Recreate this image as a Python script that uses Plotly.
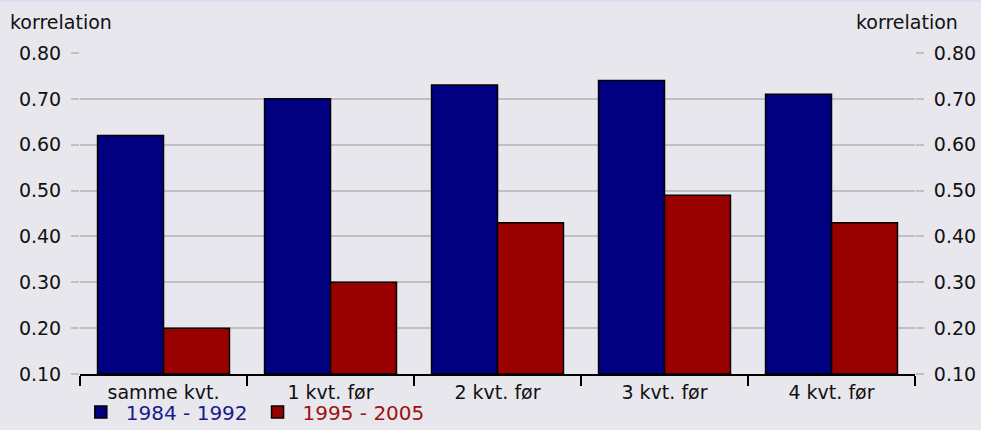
import plotly.graph_objects as go

# Data
categories = ['samme kvt.', '1 kvt. før', '2 kvt. før', '3 kvt. før', '4 kvt. før']
corr_1984_1992 = [0.62, 0.70, 0.73, 0.74, 0.71]
corr_1995_2005 = [0.20, 0.30, 0.43, 0.49, 0.43]
tick_vals = [0.10, 0.20, 0.30, 0.40, 0.50, 0.60, 0.70, 0.80]
tick_text = ['0.10', '0.20', '0.30', '0.40', '0.50', '0.60', '0.70', '0.80']
y_base = 0.10

bg = '#e7e7ed'
font_family = 'DejaVu Sans, Verdana, sans-serif'
txt = '#111111'

fig = go.Figure()

fig.add_trace(go.Bar(
    x=categories, y=[v - y_base for v in corr_1984_1992], base=y_base,
    name='<span style="color:#1a1a90">1984 - 1992</span>',
    marker=dict(color='#000080', line=dict(color='black', width=1.5)),
))
fig.add_trace(go.Bar(
    x=categories, y=[v - y_base for v in corr_1995_2005], base=y_base,
    name='<span style="color:#a01010">1995 - 2005</span>',
    marker=dict(color='#990000', line=dict(color='black', width=1.5)),
))
# invisible trace to hold the right axis
fig.add_trace(go.Scatter(x=categories, y=corr_1984_1992, yaxis='y2',
                         mode='markers', marker=dict(opacity=0),
                         showlegend=False, hoverinfo='skip'))

yaxis_common = dict(
    range=[0.10, 0.80], tickvals=tick_vals, ticktext=tick_text,
    ticks='outside', ticklen=8, tickcolor='#c0c0c4', tickwidth=2,
    showline=False, zeroline=False, ticklabelstandoff=6,
    tickfont=dict(size=19, color=txt),
)

fig.update_layout(
    width=981, height=430,
    paper_bgcolor=bg, plot_bgcolor=bg,
    font=dict(family=font_family, size=19, color=txt),
    margin=dict(l=80, r=66, t=53, b=56, autoexpand=False),
    barmode='group', bargap=0.21, bargroupgap=0,
    xaxis=dict(
        showline=True, linecolor='black', linewidth=2,
        ticks='outside', tickson='boundaries', ticklen=10,
        tickcolor='black', tickwidth=2, showgrid=False,
        tickfont=dict(size=19, color=txt),
    ),
    yaxis=dict(showgrid=True, gridcolor='#c0c0c4', gridwidth=2, **yaxis_common),
    yaxis2=dict(overlaying='y', side='right', showgrid=False, **yaxis_common),
    legend=dict(orientation='h', x=-0.005, xanchor='left', y=-0.118, yanchor='middle',
                bgcolor='rgba(0,0,0,0)', font=dict(size=20),
                itemwidth=40, traceorder='normal', tracegroupgap=0),
    annotations=[
        dict(text='korrelation', xref='paper', yref='paper', x=-0.0862, y=1.097,
             xanchor='left', yanchor='middle', showarrow=False,
             font=dict(size=19, color=txt)),
        dict(text='korrelation', xref='paper', yref='paper', x=1.054, y=1.097,
             xanchor='right', yanchor='middle', showarrow=False,
             font=dict(size=19, color=txt)),
    ],
    shapes=[
        dict(type='rect', xref='paper', yref='paper', x0=-0.1, x1=1.1,
             y0=1.16, y1=1.2, line=dict(width=0), fillcolor='#dcdcf2', layer='below'),
    ],
)

fig.write_html('out.html', config={'displayModeBar': False},
               post_script="document.body.style.margin='0';")
